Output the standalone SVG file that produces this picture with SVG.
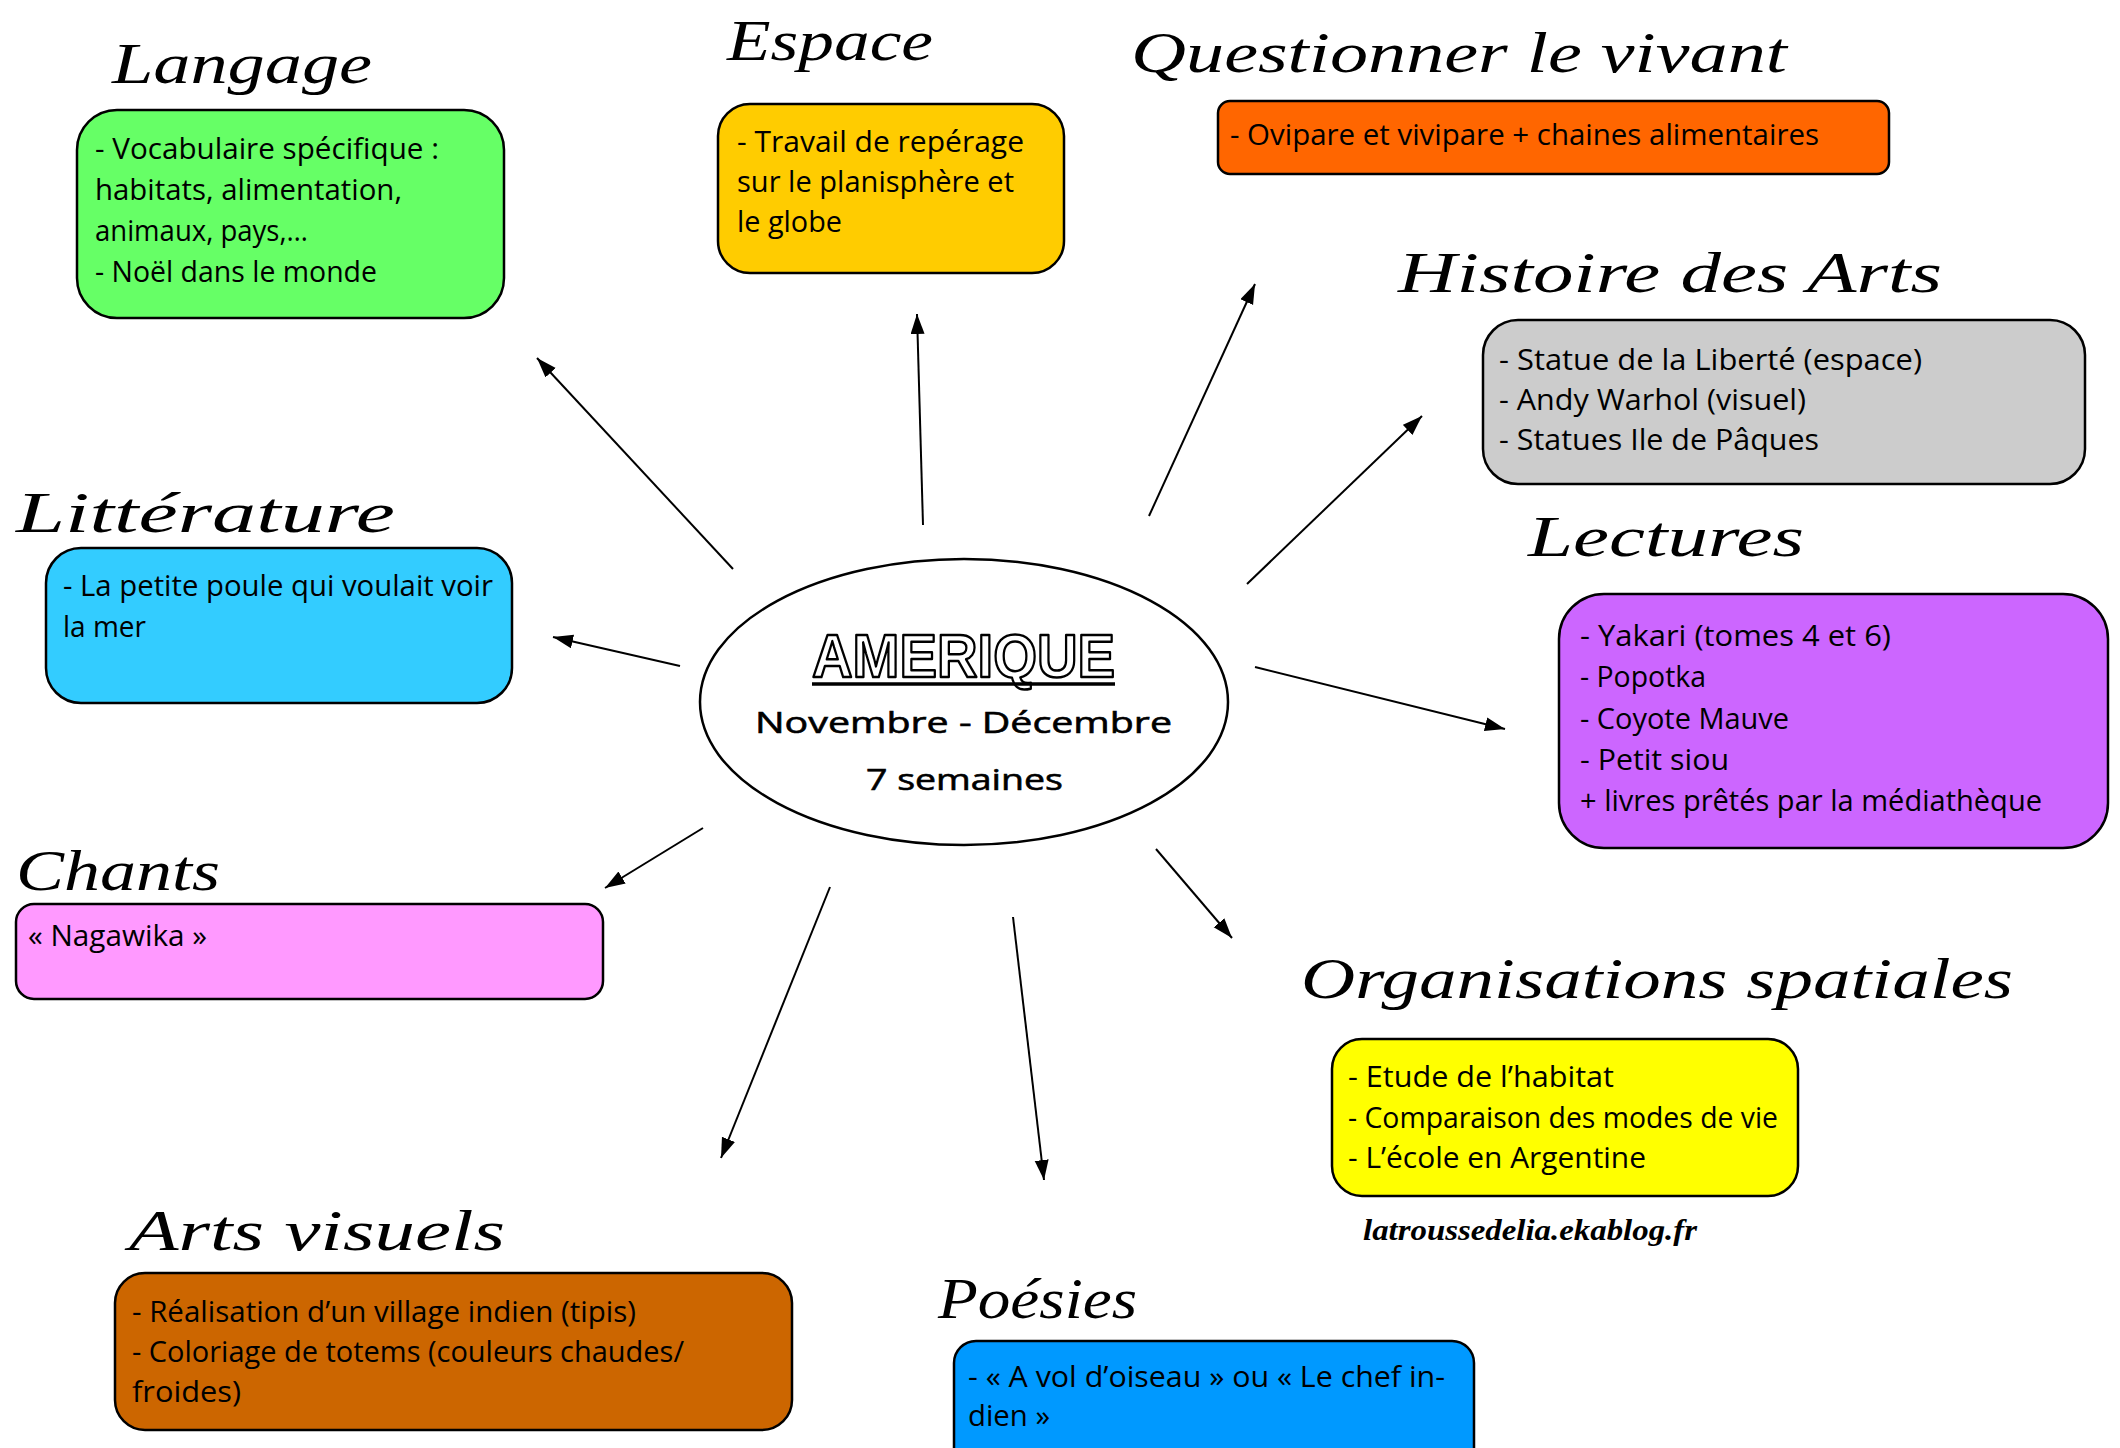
<svg xmlns="http://www.w3.org/2000/svg" width="2120" height="1448" viewBox="0 0 2120 1448">
<defs>
<marker id="ah" markerUnits="userSpaceOnUse" markerWidth="22" markerHeight="16" refX="20" refY="7" orient="auto">
<path d="M0,0 L20,7 L0,14 z" fill="#000"/>
</marker>
<style>
.t{font-family:"Liberation Serif","DejaVu Serif",serif;font-style:italic;font-size:58px;fill:#000}
.b{font-family:"Open Sans","Noto Sans",sans-serif;font-size:29px;fill:#000}
.box{stroke:#000;stroke-width:2.5}
.c{stroke:#000;stroke-width:2;fill:none}
</style>
</defs>
<rect width="2120" height="1448" fill="#fff"/>

<g id="center">
<ellipse cx="964" cy="702" rx="264" ry="143" fill="#fff" stroke="#000" stroke-width="2.5"/>
<text x="812" y="677" textLength="303" lengthAdjust="spacingAndGlyphs" font-family="Liberation Sans, Arial, sans-serif" font-weight="bold" font-size="62" fill="#fff" stroke="#000" stroke-width="2.5" stroke-linejoin="round">AMERIQUE</text>
<line x1="812" y1="684" x2="1115" y2="684" stroke="#000" stroke-width="3.5"/>
<text class="b" x="755" y="733" font-size="40" stroke="#000" stroke-width="0.6" textLength="417" lengthAdjust="spacingAndGlyphs">Novembre - Décembre</text>
<text class="b" x="866" y="790" font-size="40" stroke="#000" stroke-width="0.6" textLength="197" lengthAdjust="spacingAndGlyphs">7 semaines</text>
</g>

<g id="connectors">
<line class="c" x1="733" y1="569" x2="537" y2="358" marker-end="url(#ah)"/>
<line class="c" x1="923" y1="525" x2="917" y2="314" marker-end="url(#ah)"/>
<line class="c" x1="1149" y1="516" x2="1255" y2="284" marker-end="url(#ah)"/>
<line class="c" x1="1247" y1="584" x2="1422" y2="416" marker-end="url(#ah)"/>
<line class="c" x1="1255" y1="667" x2="1505" y2="729" marker-end="url(#ah)"/>
<line class="c" x1="1156" y1="849" x2="1232" y2="938" marker-end="url(#ah)"/>
<line class="c" x1="1013" y1="917" x2="1044" y2="1180" marker-end="url(#ah)"/>
<line class="c" x1="830" y1="887" x2="721" y2="1158" marker-end="url(#ah)"/>
<line class="c" x1="703" y1="828" x2="605" y2="888" marker-end="url(#ah)"/>
<line class="c" x1="680" y1="666" x2="553" y2="637" marker-end="url(#ah)"/>
</g>

<g id="langage">
<text class="t" x="112" y="83" textLength="260" lengthAdjust="spacingAndGlyphs">Langage</text>
<rect class="box" x="77" y="110" width="427" height="208" rx="40" fill="#66FF66"/>
<text class="b" x="95" y="159" textLength="344" lengthAdjust="spacingAndGlyphs">- Vocabulaire spécifique :</text>
<text class="b" x="95" y="200" textLength="307" lengthAdjust="spacingAndGlyphs">habitats, alimentation,</text>
<text class="b" x="95" y="241" textLength="213" lengthAdjust="spacingAndGlyphs">animaux, pays,…</text>
<text class="b" x="95" y="282" textLength="282" lengthAdjust="spacingAndGlyphs">- Noël dans le monde</text>
</g>

<g id="espace">
<text class="t" x="727" y="60" textLength="206" lengthAdjust="spacingAndGlyphs">Espace</text>
<rect class="box" x="718" y="104" width="346" height="169" rx="32" fill="#FFCC00"/>
<text class="b" x="737" y="152" textLength="287" lengthAdjust="spacingAndGlyphs">- Travail de repérage</text>
<text class="b" x="737" y="192" textLength="277" lengthAdjust="spacingAndGlyphs">sur le planisphère et</text>
<text class="b" x="737" y="232" textLength="105" lengthAdjust="spacingAndGlyphs">le globe</text>
</g>

<g id="questionner">
<text class="t" x="1131" y="72" textLength="656" lengthAdjust="spacingAndGlyphs">Questionner  le  vivant</text>
<rect class="box" x="1218" y="101" width="671" height="73" rx="12" fill="#FF6600"/>
<text class="b" x="1230" y="145" textLength="589" lengthAdjust="spacingAndGlyphs">- Ovipare et vivipare + chaines alimentaires</text>
</g>

<g id="histoire">
<text class="t" x="1398" y="292" textLength="544" lengthAdjust="spacingAndGlyphs">Histoire  des  Arts</text>
<rect class="box" x="1483" y="320" width="602" height="164" rx="35" fill="#CCCCCC"/>
<text class="b" x="1499" y="370" textLength="423" lengthAdjust="spacingAndGlyphs">- Statue de la Liberté (espace)</text>
<text class="b" x="1499" y="410" textLength="307" lengthAdjust="spacingAndGlyphs">- Andy Warhol (visuel)</text>
<text class="b" x="1499" y="450" textLength="320" lengthAdjust="spacingAndGlyphs">- Statues Ile de Pâques</text>
</g>

<g id="lectures">
<text class="t" x="1528" y="556" textLength="276" lengthAdjust="spacingAndGlyphs">Lectures</text>
<rect class="box" x="1559" y="594" width="549" height="254" rx="45" fill="#CC66FF"/>
<text class="b" x="1580" y="646" textLength="311" lengthAdjust="spacingAndGlyphs">- Yakari (tomes 4 et 6)</text>
<text class="b" x="1580" y="687" textLength="126" lengthAdjust="spacingAndGlyphs">- Popotka</text>
<text class="b" x="1580" y="729" textLength="209" lengthAdjust="spacingAndGlyphs">- Coyote Mauve</text>
<text class="b" x="1580" y="770" textLength="149" lengthAdjust="spacingAndGlyphs">- Petit siou</text>
<text class="b" x="1580" y="811" textLength="462" lengthAdjust="spacingAndGlyphs">+ livres prêtés par la médiathèque</text>
</g>

<g id="organisations">
<text class="t" x="1301" y="998" textLength="712" lengthAdjust="spacingAndGlyphs">Organisations  spatiales</text>
<rect class="box" x="1332" y="1039" width="466" height="157" rx="30" fill="#FFFF00"/>
<text class="b" x="1348" y="1087" textLength="266" lengthAdjust="spacingAndGlyphs">- Etude de l’habitat</text>
<text class="b" x="1348" y="1128" textLength="430" lengthAdjust="spacingAndGlyphs">- Comparaison des modes de vie</text>
<text class="b" x="1348" y="1168" textLength="298" lengthAdjust="spacingAndGlyphs">- L’école en Argentine</text>
</g>

<g id="credit">
<text x="1363" y="1240" textLength="334" lengthAdjust="spacingAndGlyphs" font-family="Liberation Serif, serif" font-style="italic" font-weight="bold" font-size="30">latroussedelia.ekablog.fr</text>
</g>

<g id="litterature">
<text class="t" x="16" y="532" textLength="379" lengthAdjust="spacingAndGlyphs">Littérature</text>
<rect class="box" x="46" y="548" width="466" height="155" rx="35" fill="#33CCFF"/>
<text class="b" x="63" y="596" textLength="430" lengthAdjust="spacingAndGlyphs">- La petite poule qui voulait voir</text>
<text class="b" x="63" y="637" textLength="83" lengthAdjust="spacingAndGlyphs">la mer</text>
</g>

<g id="chants">
<text class="t" x="16" y="890" textLength="204" lengthAdjust="spacingAndGlyphs">Chants</text>
<rect class="box" x="16" y="904" width="587" height="95" rx="18" fill="#FF99FF"/>
<text class="b" x="28" y="946" textLength="179" lengthAdjust="spacingAndGlyphs">« Nagawika »</text>
</g>

<g id="arts-visuels">
<text class="t" x="129" y="1250" textLength="376" lengthAdjust="spacingAndGlyphs">Arts  visuels</text>
<rect class="box" x="115" y="1273" width="677" height="157" rx="30" fill="#CC6600"/>
<text class="b" x="132" y="1322" textLength="504" lengthAdjust="spacingAndGlyphs">- Réalisation d’un village indien (tipis)</text>
<text class="b" x="132" y="1362" textLength="552" lengthAdjust="spacingAndGlyphs">- Coloriage de totems (couleurs chaudes/</text>
<text class="b" x="132" y="1402" textLength="109" lengthAdjust="spacingAndGlyphs">froides)</text>
</g>

<g id="poesies">
<text class="t" x="938" y="1318" textLength="199" lengthAdjust="spacingAndGlyphs">Poésies</text>
<rect class="box" x="954" y="1341" width="520" height="130" rx="22" fill="#0099FF"/>
<text class="b" x="968" y="1387" textLength="477" lengthAdjust="spacingAndGlyphs">- « A vol d’oiseau » ou « Le chef in-</text>
<text class="b" x="968" y="1426" textLength="82" lengthAdjust="spacingAndGlyphs">dien »</text>
</g>
</svg>
